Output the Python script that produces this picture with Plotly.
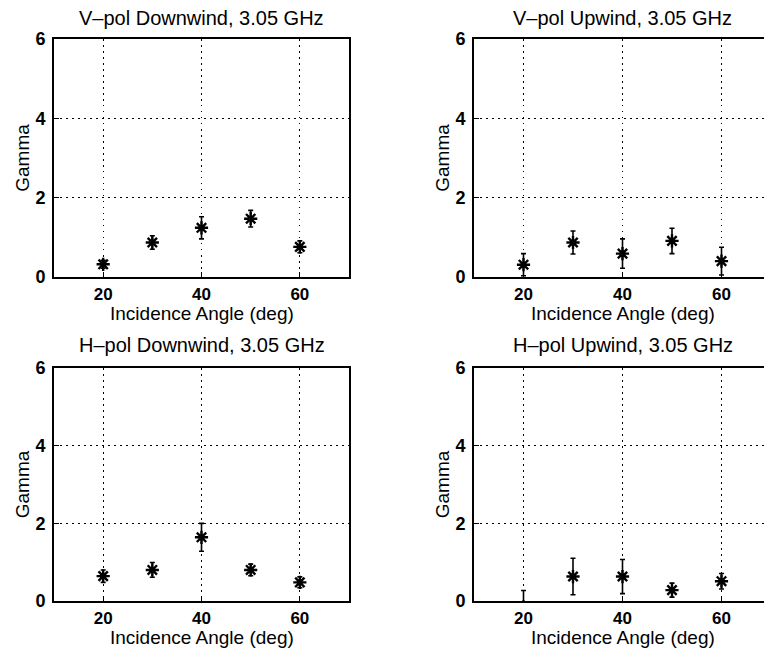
import plotly.graph_objects as go

# ---- data ----
angles = [20, 30, 40, 50, 60]

vpol_down = [0.32, 0.87, 1.24, 1.47, 0.76]
vpol_down_err = [0.10, 0.17, 0.28, 0.21, 0.15]

vpol_up = [0.31, 0.87, 0.59, 0.91, 0.40]
vpol_up_err = [0.28, 0.29, 0.37, 0.32, 0.35]

hpol_down = [0.64, 0.80, 1.64, 0.80, 0.48]
hpol_down_err = [0.16, 0.19, 0.36, 0.15, 0.14]

hpol_up = [-0.15, 0.63, 0.63, 0.28, 0.51]
hpol_up_err = [0.42, 0.47, 0.44, 0.18, 0.20]

panel_titles = [
    "V\u2013pol Downwind, 3.05 GHz",
    "V\u2013pol Upwind, 3.05 GHz",
    "H\u2013pol Downwind, 3.05 GHz",
    "H\u2013pol Upwind, 3.05 GHz",
]
x_ticks = [20, 40, 60]
y_ticks = [0, 2, 4, 6]
x_label = "Incidence Angle (deg)"
y_label = "Gamma"

series = [
    (vpol_down, vpol_down_err),
    (vpol_up, vpol_up_err),
    (hpol_down, hpol_down_err),
    (hpol_up, hpol_up_err),
]

W, H = 764, 652
FONT = "Liberation Sans, Arial, Helvetica, sans-serif"

# pixel geometry of panels
left_dom = [54 / W, 349 / W]
right_dom = [474 / W, 1.0]
top_dom = [1 - 277 / H, 1 - 39 / H]
bot_dom = [1 - 601 / H, 1 - 368 / H]
right_xmax = 10 + (W - 474) / 4.95

fig = go.Figure()

axes_cfg = [
    ("x", "y", left_dom, top_dom, [10, 70], True),
    ("x2", "y2", right_dom, top_dom, [10, right_xmax], False),
    ("x3", "y3", left_dom, bot_dom, [10, 70], True),
    ("x4", "y4", right_dom, bot_dom, [10, right_xmax], False),
]

GRID_DASH = "1.5px,4.5px"

for i, ((xa, ya, xd, yd, xr, full), (vals, errs)) in enumerate(zip(axes_cfg, series)):
    fig.add_trace(go.Scatter(
        x=angles, y=vals, mode="markers",
        xaxis=xa, yaxis=ya,
        marker=dict(symbol="asterisk-open", size=11, color="black",
                    line=dict(color="black", width=2.4)),
        error_y=dict(type="data", array=errs, visible=True,
                     color="black", thickness=1.6, width=2.5),
        showlegend=False,
    ))
    n = "" if i == 0 else str(i + 1)
    xkey = "xaxis" + n
    ykey = "yaxis" + n
    fig.layout[xkey] = dict(
        domain=xd, range=xr, anchor=ya,
        tickmode="array", tickvals=x_ticks, ticktext=[str(t) for t in x_ticks],
        ticks="inside", ticklen=5, tickcolor="black", tickwidth=1,
        showline=True, linecolor="black", linewidth=1.6, mirror=True,
        showgrid=True, gridcolor="black", griddash=GRID_DASH, gridwidth=1.2,
        zeroline=False,
        tickfont=dict(family=FONT, size=17, color="black", weight="bold"),
        ticklabelstandoff=1,
        automargin=False,
    )
    fig.layout[ykey] = dict(
        domain=yd, range=[0, 6], anchor=xa,
        tickmode="array", tickvals=y_ticks, ticktext=[str(t) for t in y_ticks],
        ticks="inside", ticklen=5, tickcolor="black", tickwidth=1,
        showline=True, linecolor="black", linewidth=1.6, mirror=full,
        showgrid=True, gridcolor="black", griddash=GRID_DASH, gridwidth=1.2,
        zeroline=False,
        tickfont=dict(family=FONT, size=18, color="black", weight="bold"),
        ticklabelstandoff=3,
        title=dict(text=y_label, font=dict(family=FONT, size=19, color="black"),
                   standoff=1),
        automargin=False,
    )
    # panel title
    fig.add_annotation(
        text=panel_titles[i], xref=xa, x=40, yref="paper",
        y=yd[1] + (21 if i < 2 else 23) / H, yanchor="middle", xanchor="center",
        showarrow=False, font=dict(family=FONT, size=20, color="black"),
    )
    # x-axis title
    fig.add_annotation(
        text=x_label, xref=xa, x=40, yref="paper",
        y=yd[0] - 36 / H, yanchor="middle", xanchor="center",
        showarrow=False, font=dict(family=FONT, size=19, color="black"),
    )

fig.update_layout(
    width=W, height=H,
    margin=dict(l=0, r=0, t=0, b=0),
    paper_bgcolor="white", plot_bgcolor="white",
)

fig.write_html("out.html")
